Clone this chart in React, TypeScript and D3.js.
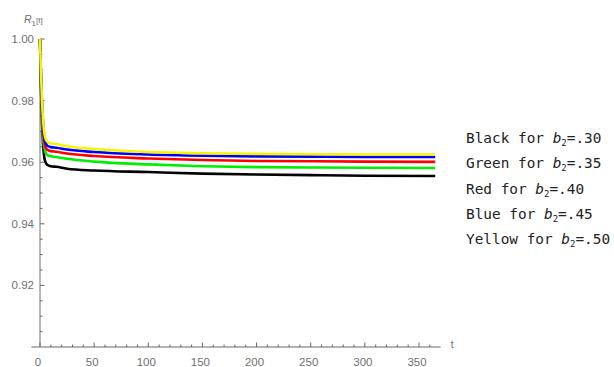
import React, { useEffect, useRef } from "react";
import * as d3 from "d3";

// sample times (t) and R1(t) readings for each b2 value
const times = [0, 1, 2, 3, 4, 5, 6, 8, 10, 15, 25, 50, 100, 150, 200, 250, 300, 365];

const black = [1.0, 0.983, 0.972, 0.965, 0.9615, 0.9601, 0.9594, 0.9589, 0.9587, 0.9585, 0.9579, 0.9573, 0.9568, 0.9563, 0.956, 0.9558, 0.9556, 0.9555];
const green = [1.0, 0.985, 0.975, 0.968, 0.9648, 0.9633, 0.9626, 0.9621, 0.9619, 0.9617, 0.9611, 0.9602, 0.9593, 0.9587, 0.9584, 0.9583, 0.9582, 0.9581];
const red = [1.0, 0.986, 0.977, 0.97, 0.9665, 0.965, 0.9643, 0.9638, 0.9636, 0.9634, 0.9628, 0.962, 0.9612, 0.9607, 0.9604, 0.9603, 0.9602, 0.9601];
const blue = [1.0, 0.987, 0.978, 0.972, 0.968, 0.9665, 0.9657, 0.9651, 0.9649, 0.9647, 0.9641, 0.9633, 0.9625, 0.9621, 0.9619, 0.9618, 0.9617, 0.9617];
const yellow = [1.0, 0.988, 0.979, 0.973, 0.9695, 0.9678, 0.967, 0.9664, 0.9661, 0.9659, 0.9652, 0.9643, 0.9633, 0.9629, 0.9627, 0.9626, 0.9625, 0.9625];

const seriesNames = ["Black", "Green", "Red", "Blue", "Yellow"];
const seriesColors = ["#000000", "#00ee00", "#ff0000", "#0000ff", "#f5f500"];
const b2Labels = [".30", ".35", ".40", ".45", ".50"];
const seriesValues = [black, green, red, blue, yellow];

const xMajor = [0, 50, 100, 150, 200, 250, 300, 350];
const yMajor = [0.92, 0.94, 0.96, 0.98, 1.0];

export default function App() {
  const svgRef = useRef<SVGSVGElement>(null);

  useEffect(() => {
    const width = 614;
    const height = 367;
    const root = d3.select(svgRef.current);
    root.selectAll("*").remove();
    root.attr("width", width).attr("height", height);

    const x = d3.scaleLinear().domain([0, 350]).range([40, 419]);
    const y = d3.scaleLinear().domain([0.9, 1.0]).range([347, 39]);

    const axisColor = "#9a9a9a";
    const labelColor = "#707070";
    const font = "Arial, 'Liberation Sans', sans-serif";

    // y axis
    root
      .append("line")
      .attr("x1", x(0))
      .attr("x2", x(0))
      .attr("y1", y(1.0))
      .attr("y2", y(0.9))
      .attr("stroke", axisColor)
      .attr("stroke-width", 1.4);

    const yMinor = d3.range(0.905, 1.0001, 0.005).filter((v) => !yMajor.some((m) => Math.abs(m - v) < 1e-6));
    root
      .selectAll(".yminor")
      .data(yMinor)
      .join("line")
      .attr("x1", x(0))
      .attr("x2", x(0) + 2.5)
      .attr("y1", (d) => y(d))
      .attr("y2", (d) => y(d))
      .attr("stroke", "#666")
      .attr("stroke-width", 1);
    root
      .selectAll(".ymajor")
      .data(yMajor)
      .join("line")
      .attr("x1", x(0))
      .attr("x2", x(0) + 4.5)
      .attr("y1", (d) => y(d))
      .attr("y2", (d) => y(d))
      .attr("stroke", "#666")
      .attr("stroke-width", 1);
    root
      .selectAll(".ylabel")
      .data(yMajor)
      .join("text")
      .attr("x", x(0) - 6)
      .attr("y", (d) => y(d) + 4)
      .attr("text-anchor", "end")
      .attr("font-family", font)
      .attr("font-size", 11.5)
      .attr("fill", labelColor)
      .text((d) => d3.format(".2f")(d));

    // x axis
    root
      .append("line")
      .attr("x1", x(-8))
      .attr("x2", x(370))
      .attr("y1", y(0.9))
      .attr("y2", y(0.9))
      .attr("stroke", axisColor)
      .attr("stroke-width", 1.4);

    const xMinor = d3.range(10, 361, 10).filter((v) => v % 50 !== 0);
    root
      .selectAll(".xminor")
      .data(xMinor)
      .join("line")
      .attr("x1", (d) => x(d))
      .attr("x2", (d) => x(d))
      .attr("y1", y(0.9))
      .attr("y2", y(0.9) - 2.5)
      .attr("stroke", "#666")
      .attr("stroke-width", 1);
    root
      .selectAll(".xmajor")
      .data(xMajor)
      .join("line")
      .attr("x1", (d) => x(d))
      .attr("x2", (d) => x(d))
      .attr("y1", y(0.9))
      .attr("y2", y(0.9) - 4.5)
      .attr("stroke", "#666")
      .attr("stroke-width", 1);
    root
      .selectAll(".xlabel")
      .data(xMajor)
      .join("text")
      .attr("x", (d) => x(d) - 2)
      .attr("y", 366)
      .attr("text-anchor", "middle")
      .attr("font-family", font)
      .attr("font-size", 11.5)
      .attr("fill", labelColor)
      .text((d) => String(d));

    // curves, on top of the axes like the original
    const line = d3
      .line<number>()
      .x((_, i) => x(times[i]))
      .y((d) => y(d))
      .curve(d3.curveMonotoneX);

    seriesValues.forEach((vals, i) => {
      root
        .append("path")
        .attr("d", line(vals) as string)
        .attr("fill", "none")
        .attr("stroke", seriesColors[i])
        .attr("stroke-width", 2.6);
    });

    // axis labels
    root
      .append("text")
      .attr("x", x(370) + 10)
      .attr("y", y(0.9) + 1)
      .attr("font-family", font)
      .attr("font-size", 10.5)
      .attr("fill", labelColor)
      .text("t");

    const yTitle = root
      .append("text")
      .attr("x", 24)
      .attr("y", 23)
      .attr("font-family", font)
      .attr("font-size", 10.5)
      .attr("fill", labelColor);
    yTitle.append("tspan").attr("font-style", "italic").text("R");
    yTitle.append("tspan").attr("font-size", 8).attr("dy", 3).text("1");
    yTitle.append("tspan").attr("dy", -3).attr("font-size", 8).text("[t]");

    // legend text
    const legend = root
      .selectAll(".legend")
      .data(seriesNames)
      .join("text")
      .attr("x", 466)
      .attr("y", (_, i) => 143 + i * 25.3)
      .attr("font-family", "'DejaVu Sans Mono', 'Liberation Mono', monospace")
      .attr("font-size", 14.4)
      .attr("fill", "#222");
    legend.append("tspan").text((d) => `${d} for `);
    legend.append("tspan").attr("font-style", "italic").text("b");
    legend.append("tspan").attr("font-size", 9).attr("dy", 3).text("2");
    legend
      .append("tspan")
      .attr("dy", -3)
      .text((_, i) => `=${b2Labels[i]}`);
  }, []);

  return <svg ref={svgRef} style={{ position: "absolute", left: 0, top: 0, background: "#fff" }} />;
}
